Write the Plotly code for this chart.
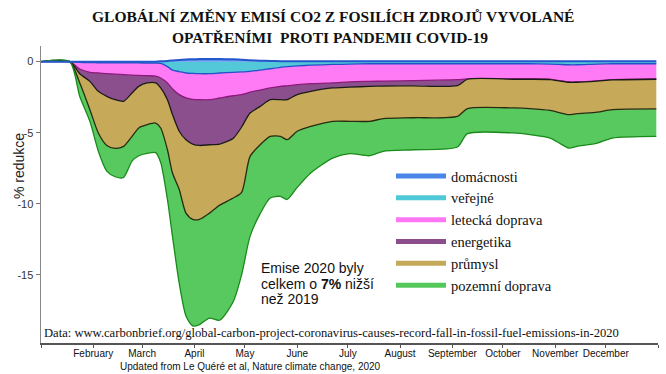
import plotly.graph_objects as go

# ---------------- data ----------------
dates = ["2020-01-01", "2020-01-18", "2020-01-24", "2020-01-30", "2020-02-04", "2020-02-09",
         "2020-02-14", "2020-02-19", "2020-02-24", "2020-02-28", "2020-03-04", "2020-03-09",
         "2020-03-12", "2020-03-16", "2020-03-19", "2020-03-23", "2020-03-27", "2020-03-31",
         "2020-04-04", "2020-04-10", "2020-04-16", "2020-04-24", "2020-04-29", "2020-05-04",
         "2020-05-10", "2020-05-16", "2020-05-22", "2020-05-26", "2020-06-01", "2020-06-09",
         "2020-06-22", "2020-07-02", "2020-07-14", "2020-07-22", "2020-08-09", "2020-09-04",
         "2020-09-10", "2020-10-07", "2020-10-17", "2020-10-29", "2020-11-04", "2020-11-09",
         "2020-11-14", "2020-11-26", "2020-12-05", "2020-12-31"]

domacnosti = [0, 0, 0, 0, 0, 0, 0, 0, 0, 0, 0, 0,
              0.02, 0.05, 0.08, 0.12, 0.15, 0.17, 0.18, 0.18, 0.18, 0.16, 0.14, 0.10,
              0.07, 0.05, 0.03, 0.03, 0.03, 0.03, 0.03, 0.03, 0.03, 0.03, 0.03, 0.03,
              0.03, 0.03, 0.03, 0.03, 0.03, 0.03, 0.03, 0.03, 0.03, 0.03]
verejne = [0, 0, -0.05, -0.07, -0.08, -0.09, -0.09, -0.09, -0.09, -0.09, -0.10, -0.10,
           -0.12, -0.35, -0.60, -0.70, -0.80, -0.83, -0.85, -0.85, -0.80, -0.75, -0.72, -0.68,
           -0.60, -0.50, -0.40, -0.35, -0.30, -0.25, -0.20, -0.18, -0.15, -0.15, -0.15, -0.15,
           -0.15, -0.15, -0.15, -0.17, -0.20, -0.22, -0.22, -0.17, -0.15, -0.15]
letecka = [0, 0, -0.47, -0.68, -0.72, -0.76, -0.79, -0.83, -0.86, -0.88, -0.89, -0.92,
           -1.03, -1.15, -1.32, -1.62, -1.75, -1.82, -1.83, -1.83, -1.76, -1.65, -1.60, -1.47,
           -1.40, -1.35, -1.34, -1.35, -1.32, -1.30, -1.30, -1.24, -1.24, -1.22, -1.18, -1.12,
           -1.07, -1.07, -1.07, -1.07, -1.15, -1.21, -1.21, -1.18, -1.12, -1.07]
energetika = [0, 0, -0.33, -0.64, -1.29, -1.59, -1.80, -1.87, -1.26, -0.77, -0.51, -0.48,
              -0.70, -1.18, -1.81, -2.58, -2.95, -3.15, -3.22, -3.17, -3.24, -3.00, -2.28, -1.47,
              -1.15, -0.83, -0.94, -0.98, -0.70, -0.54, -0.35, -0.38, -0.35, -0.35, -0.37, -0.42,
              -0.02, -0.02, -0.02, -0.02, -0.02, -0.02, -0.02, -0.02, -0.02, -0.02]
prumysl = [0, 0, -0.65, -1.99, -2.93, -3.46, -3.42, -3.17, -3.05, -2.93, -2.94, -2.82,
           -2.82, -3.52, -4.11, -4.10, -5.16, -5.30, -5.20, -4.81, -4.30, -4.20, -4.60, -3.05,
           -2.70, -2.58, -2.58, -2.81, -2.58, -2.47, -2.35, -2.40, -2.46, -2.29, -2.25, -2.16,
           -2.06, -2.02, -2.06, -2.17, -2.23, -2.28, -2.21, -2.18, -2.09, -2.09]
pozemni = [0, 0, -0.95, -0.82, -1.28, -1.80, -2.00, -2.19, -1.74, -1.95, -2.01, -2.08,
           -2.43, -3.50, -4.46, -6.60, -7.24, -7.50, -7.40, -7.39, -8.10, -7.30, -5.80, -5.63,
           -4.85, -4.34, -4.22, -4.21, -3.95, -3.28, -2.59, -2.28, -2.42, -2.30, -2.25, -2.16,
           -1.77, -1.76, -1.84, -1.95, -2.17, -2.35, -2.30, -2.18, -2.00, -1.93]

sector_names = ["domácnosti", "veřejné", "letecká doprava", "energetika", "průmysl", "pozemní doprava"]
legend_colors = ["#4a86e8", "#4fc8d8", "#ff77f5", "#8b4d8b", "#c4aa58", "#55c85c"]
fill_colors = ["#5b95ec", "#52c8d8", "#ff7af5", "#8c4f8e", "#c6aa5a", "#58c95e"]
edge_colors = ["#2456cc", "#2450c8", "#8b1a7a", "#1a1a1a", "#2a2a10", "#1a8a1a"]

month_ticks = ["2020-01-01", "2020-02-01", "2020-03-01", "2020-04-01", "2020-05-01", "2020-06-01",
               "2020-07-01", "2020-08-01", "2020-09-01", "2020-10-01", "2020-11-01", "2020-12-01",
               "2021-01-01"]
month_labels = ["", "February", "March", "April", "May", "June", "July", "August",
                "September", "October", "November", "December", ""]
y_ticks = [0, -5, -10, -15]
y_labels = ["0", "-5", "-10", "-15"]

title_lines = ["GLOBÁLNÍ ZMĚNY EMISÍ CO2 Z FOSILÍCH ZDROJŮ VYVOLANÉ",
               "OPATŘENÍMI\u00a0 PROTI PANDEMII COVID-19"]
note_lines = ["Emise 2020 byly", "celkem o <b>7%</b> nižší", "než 2019"]

# ---------------- stacking ----------------
stack_layers = [verejne, letecka, energetika, prumysl, pozemni]
cum = []
run = [0.0] * len(dates)
for layer in stack_layers:
    run = [a + b for a, b in zip(run, layer)]
    cum.append(run)

fig = go.Figure()
for i, ys in enumerate(cum):
    fig.add_trace(go.Scatter(
        x=dates, y=ys, mode="lines",
        line=dict(color=edge_colors[i + 1], width=1.3, shape="spline", smoothing=0.7),
        fill="tozeroy" if i == 0 else "tonexty",
        fillcolor=fill_colors[i + 1],
        showlegend=False, hoverinfo="skip"))

fig.add_trace(go.Scatter(
    x=dates, y=domacnosti, mode="lines",
    line=dict(color=edge_colors[0], width=2, shape="spline", smoothing=0.7),
    fill="tozeroy", fillcolor=fill_colors[0],
    showlegend=False, hoverinfo="skip"))

for name, col in zip(sector_names, legend_colors):
    fig.add_trace(go.Scatter(x=[None], y=[None], mode="lines", name=name,
                             line=dict(color=col, width=5)))

W, H = 666, 374
L, R, T, B = 41, 8, 46, 31
pw, ph = W - L - R, H - T - B


def px(x):
    return (x - L) / pw


def py(y):
    return (H - B - y) / ph


annotations = [
    dict(text="<b>" + title_lines[0] + "</b>", x=px(333), y=py(17), xref="paper", yref="paper",
         xanchor="center", yanchor="middle", showarrow=False,
         font=dict(family="Liberation Serif", size=15.5, color="#111")),
    dict(text="<b>" + title_lines[1] + "</b>", x=px(330), y=py(38), xref="paper", yref="paper",
         xanchor="center", yanchor="middle", showarrow=False,
         font=dict(family="Liberation Serif", size=15.5, color="#111")),
    dict(text="% redukce", textangle=-90, x=px(19), y=py(166),
         xref="paper", yref="paper", xanchor="center", yanchor="middle", showarrow=False,
         font=dict(family="Liberation Sans", size=14, color="#222")),
    dict(text="Data: www.carbonbrief.org/global-carbon-project-coronavirus-causes-record-fall-in-fossil-fuel-emissions-in-2020",
         x=px(42), y=py(333), xref="paper", yref="paper",
         xanchor="left", yanchor="middle", showarrow=False,
         font=dict(family="Liberation Serif", size=12.6, color="#111")),
    dict(text="Updated from Le Quéré et al, Nature climate change, 2020",
         x=px(250), y=py(366), xref="paper", yref="paper",
         xanchor="center", yanchor="middle", showarrow=False,
         font=dict(family="Liberation Sans", size=10, color="#111")),
]
for line, yy in zip(note_lines, [268, 284, 299]):
    annotations.append(dict(text=line, x=px(259), y=py(yy), xref="paper", yref="paper",
                            xanchor="left", yanchor="middle", showarrow=False,
                            font=dict(family="Liberation Sans", size=14, color="#111")))

fig.update_layout(
    width=W, height=H, autosize=False,
    margin=dict(l=L, r=R, t=T, b=B),
    paper_bgcolor="white", plot_bgcolor="white",
    xaxis=dict(
        type="date", range=["2020-01-01", "2021-01-01"],
        tickvals=month_ticks, ticktext=month_labels,
        ticks="outside", ticklen=3, tickcolor="#555",
        ticklabelstandoff=-3,
        showline=True, linecolor="#555", linewidth=1.5,
        showgrid=False, zeroline=False,
        tickfont=dict(family="Liberation Sans", size=10, color="#111")),
    yaxis=dict(
        range=[-19.8, 1.1],
        tickvals=y_ticks, ticktext=y_labels,
        ticks="outside", ticklen=4, tickcolor="#777",
        showline=True, linecolor="#888", linewidth=1.5,
        showgrid=False, zeroline=False,
        tickfont=dict(family="Liberation Sans", size=11, color="#333")),
    legend=dict(
        x=px(391), y=py(160), xanchor="left", yanchor="top",
        traceorder="normal",
        font=dict(family="Liberation Serif", size=14.5, color="#111"),
        bgcolor="rgba(0,0,0,0)", itemwidth=50, tracegroupgap=0),
    annotations=annotations,
)

fig.write_html(
    "out.html",
    config={"displayModeBar": False, "staticPlot": True},
    post_script="document.body.style.margin='0';document.body.style.padding='0';"
                "document.body.style.overflow='hidden';",
)
